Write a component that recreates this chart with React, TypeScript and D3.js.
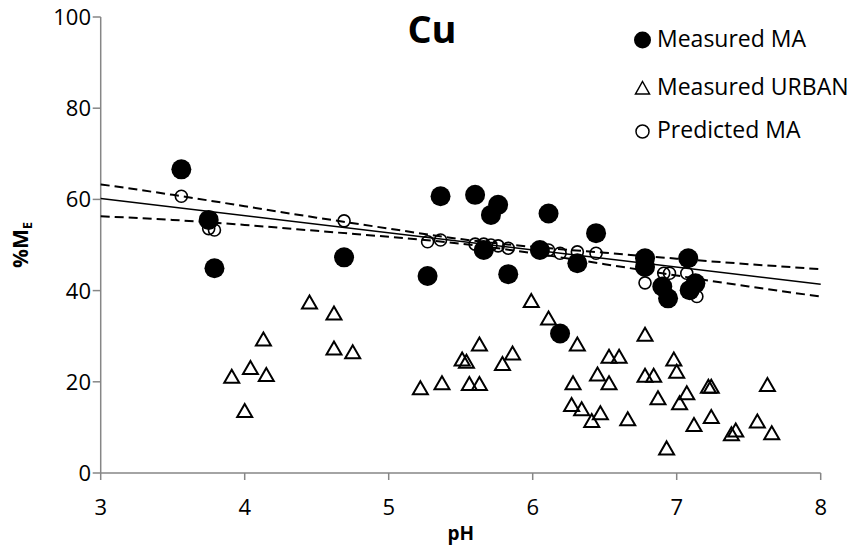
import React from "react";
import * as d3 from "d3";

const maPH = [3.56, 3.75, 3.79, 4.69, 5.27, 5.36, 5.6, 5.66, 5.71, 5.76, 5.83, 6.05, 6.11, 6.19, 6.31, 6.44, 6.78, 6.78, 6.9, 6.94, 7.08, 7.09, 7.13];
const maPct = [66.6, 55.5, 44.9, 47.3, 43.2, 60.7, 61.0, 48.9, 56.6, 58.8, 43.6, 48.9, 56.9, 30.6, 46.0, 52.6, 47.1, 45.2, 40.9, 38.3, 47.1, 40.1, 41.6];

const urbanPH = [4.45, 4.62, 4.13, 4.62, 4.75, 4.04, 3.91, 4.15, 4.0,
  5.99, 6.11, 6.31, 5.63, 5.51, 5.54, 5.86, 5.79, 5.22, 5.37, 5.56, 5.63, 6.28, 6.53, 6.6, 6.45, 6.53, 6.27, 6.34, 6.41, 6.47, 6.66,
  6.78, 6.98, 7.0, 6.78, 6.84, 6.87, 7.02, 7.07, 7.22, 7.24, 7.63, 7.12, 7.24, 7.38, 7.41, 7.56, 7.66, 6.93];
const urbanPct = [37.4, 35.0, 29.3, 27.3, 26.5, 23.0, 21.1, 21.5, 13.6,
  37.7, 33.9, 28.2, 28.2, 24.9, 24.4, 26.2, 23.9, 18.6, 19.7, 19.5, 19.5, 19.7, 25.5, 25.5, 21.6, 19.7, 14.9, 14.0, 11.4, 13.1, 11.8,
  30.3, 24.9, 22.2, 21.3, 21.3, 16.4, 15.3, 17.5, 18.9, 18.9, 19.3, 10.5, 12.3, 8.5, 9.3, 11.3, 8.7, 5.4];

const predPH = [3.56, 3.75, 3.79, 4.69, 5.27, 5.36, 5.6, 5.66, 5.71, 5.76, 5.83, 6.05, 6.11, 6.19, 6.31, 6.44, 6.78, 6.91, 6.95, 7.07, 7.14, 7.1];
const predPct = [60.7, 53.6, 53.3, 55.3, 50.7, 51.1, 50.2, 50.2, 50.0, 49.8, 49.3, 49.0, 48.9, 48.2, 48.5, 48.2, 41.7, 43.8, 43.8, 43.8, 38.7, 39.5];

const trendPH = [3, 8];
const trendPct = [60.2, 41.4];

const ciPH = [3, 3.5, 4, 4.5, 5, 5.5, 6, 6.5, 7, 7.5, 8];
const ciUpper = [63.3, 61.0, 58.5, 56.0, 53.6, 51.3, 49.6, 48.3, 47.0, 45.8, 44.7];
const ciLower = [56.3, 55.5, 54.4, 53.1, 51.8, 50.3, 48.2, 45.8, 43.3, 40.9, 38.7];

const xTicks = [3, 4, 5, 6, 7, 8];
const yTicks = [0, 20, 40, 60, 80, 100];

const legendLabels = ["Measured MA", "Measured URBAN", "Predicted MA"];
const title = "Cu";

const FONT = "'Open Sans', sans-serif";
const AXIS = "#868686";

const triPath = "M0,-7L7.5,6L-7.5,6Z";

export default function App() {
  const W = 853, H = 550;
  const x = d3.scaleLinear().domain([3, 8]).range([100.7, 820.7]);
  const y = d3.scaleLinear().domain([0, 100]).range([473, 17]);

  const line = d3.line<[number, number]>().x(d => x(d[0])).y(d => y(d[1]));
  const curve = d3.line<[number, number]>().x(d => x(d[0])).y(d => y(d[1])).curve(d3.curveNatural);

  const trend = trendPH.map((p, i) => [p, trendPct[i]] as [number, number]);
  const up = ciPH.map((p, i) => [p, ciUpper[i]] as [number, number]);
  const lo = ciPH.map((p, i) => [p, ciLower[i]] as [number, number]);

  return (
    <svg width={W} height={H} style={{ position: "absolute", left: 0, top: 0, background: "#fff" }} fontFamily={FONT}>
      {/* axes */}
      <line x1={x(3)} x2={x(8)} y1={y(0)} y2={y(0)} stroke={AXIS} strokeWidth={1.5} />
      <line x1={x(3)} x2={x(3)} y1={y(0)} y2={y(100)} stroke={AXIS} strokeWidth={1.5} />
      {xTicks.map(t => (
        <g key={"xt" + t}>
          <line x1={x(t)} x2={x(t)} y1={y(0)} y2={y(0) + 7} stroke={AXIS} strokeWidth={1.5} />
          <text x={x(t)} y={515} textAnchor="middle" fontSize={22} fill="#000">{t}</text>
        </g>
      ))}
      {yTicks.map(t => (
        <g key={"yt" + t}>
          <line x1={x(3) - 8} x2={x(3)} y1={y(t)} y2={y(t)} stroke={AXIS} strokeWidth={1.5} />
          <text x={91} y={y(t) + 8} textAnchor="end" fontSize={22} fill="#000">{t}</text>
        </g>
      ))}
      <text x={460.7} y={540} textAnchor="middle" fontSize={19} fontWeight="bold">pH</text>
      <text transform="translate(28,245) rotate(-90)" textAnchor="middle" fontSize={21} fontWeight="bold">
        %M<tspan fontSize={13} dy={4}>E</tspan>
      </text>

      {/* title */}
      <text x={432} y={43} textAnchor="middle" fontSize={38} fontWeight="bold">{title}</text>

      {/* lines */}
      <path d={curve(up) || ""} fill="none" stroke="#000" strokeWidth={2} strokeDasharray="9,5" />
      <path d={curve(lo) || ""} fill="none" stroke="#000" strokeWidth={2} strokeDasharray="9,5" />
      <path d={line(trend) || ""} fill="none" stroke="#000" strokeWidth={1.5} />

      {/* predicted */}
      {predPH.map((p, i) => (
        <circle key={"p" + i} cx={x(p)} cy={y(predPct[i])} r={6} fill="none" stroke="#000" strokeWidth={1.6} />
      ))}
      {/* urban */}
      {urbanPH.map((p, i) => (
        <path key={"u" + i} d={triPath} transform={`translate(${x(p)},${y(urbanPct[i])})`} fill="none" stroke="#000" strokeWidth={2} />
      ))}
      {/* measured MA */}
      {maPH.map((p, i) => (
        <circle key={"m" + i} cx={x(p)} cy={y(maPct[i])} r={10} fill="#000" />
      ))}

      {/* legend */}
      <circle cx={642.5} cy={40} r={8.5} fill="#000" />
      <path d="M0,-6.5L7,6L-7,6Z" transform="translate(642.5,88)" fill="none" stroke="#000" strokeWidth={1.5} />
      <circle cx={642.5} cy={131.5} r={6.5} fill="none" stroke="#000" strokeWidth={1.5} />
      {legendLabels.map((l, i) => (
        <text key={l} x={657} y={[47.3, 95, 138.3][i]} fontSize={23} fill="#000">{l}</text>
      ))}
    </svg>
  );
}
